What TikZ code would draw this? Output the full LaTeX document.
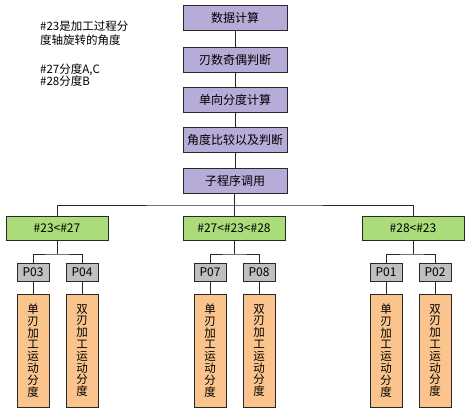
\documentclass[tikz,border=0pt]{standalone}
\usepackage{fontspec}
\setmainfont{Noto Sans CJK SC}
\definecolor{pbox}{RGB}{183,172,216}
\definecolor{gbox}{RGB}{170,220,122}
\definecolor{hbox}{RGB}{192,192,192}
\definecolor{obox}{RGB}{250,196,140}
\definecolor{edgec}{RGB}{40,40,40}
\tikzset{
  base/.style={draw=edgec, line width=0.9pt, inner sep=0pt, font=\fontsize{12}{14}\selectfont},
  pstep/.style={base, fill=pbox, minimum width=104pt, minimum height=25pt},
  gstep/.style={base, fill=gbox, minimum width=102pt, minimum height=24pt},
  hstep/.style={base, fill=hbox, minimum width=32pt, minimum height=18pt},
  ostep/.style={base, fill=obox, minimum width=32pt, minimum height=113pt, align=center, font=\fontsize{11.5}{11.8}\selectfont},
  conn/.style={draw=edgec, line width=0.9pt},
  note/.style={inner sep=0pt, anchor=west, align=left}
}
\begin{document}
\begin{tikzpicture}[x=1pt,y=-1pt]
\useasboundingbox (0,0) rectangle (470,414);
% notes
\node[note, font=\fontsize{11.5}{14}\selectfont] (n1) at (40,33) {\#23是加工过程分\\度轴旋转的角度};
\node[note, font=\fontsize{11.5}{12.5}\selectfont] (n2) at (40,75) {\#27分度A,C\\\#28分度B};
% purple chain
\node[pstep] (p1) at (235,17.5) {数据计算};
\node[pstep] (p2) at (235,59.5) {刃数奇偶判断};
\node[pstep] (p3) at (235,99.5) {单向分度计算};
\node[pstep] (p4) at (235,140) {角度比较以及判断};
\node[pstep] (p5) at (235,180.5) {子程序调用};
\draw[conn] (p1) -- (p2);
\draw[conn] (p2) -- (p3);
\draw[conn] (p3) -- (p4);
\draw[conn] (p4) -- (p5);
% green
\node[gstep] (g1) at (57,228) {\#23<\#27};
\node[gstep] (g2) at (234,228) {\#27<\#23<\#28};
\node[gstep] (g3) at (413,228) {\#28<\#23};
\coordinate (bus) at (234,205);
\draw[conn] (p5.south -| bus) -- (bus);
\draw[conn] (g1.north) |- (bus) -| (g3.north);
\draw[conn] (bus) -- (g2.north);
% gray
\node[hstep] (h1) at (33,272) {P03};
\node[hstep] (h2) at (82,272) {P04};
\node[hstep] (h3) at (210,272) {P07};
\node[hstep] (h4) at (259,272) {P08};
\node[hstep] (h5) at (386,272) {P01};
\node[hstep] (h6) at (435,272) {P02};
\coordinate (j1) at (57,254);
\coordinate (j2) at (234,254);
\coordinate (j3) at (413,254);
\draw[conn] (g1) -- (j1);
\draw[conn] (g2) -- (j2);
\draw[conn] (g3) -- (j3);
\draw[conn] (h1.north) |- (j1) -| (h2.north);
\draw[conn] (h3.north) |- (j2) -| (h4.north);
\draw[conn] (h5.north) |- (j3) -| (h6.north);
% orange
\node[ostep] (o1) at (33,350.5) {单\\刃\\加\\工\\运\\动\\分\\度};
\node[ostep] (o2) at (82,350.5) {双\\刃\\加\\工\\运\\动\\分\\度};
\node[ostep] (o3) at (210,350.5) {单\\刃\\加\\工\\运\\动\\分\\度};
\node[ostep] (o4) at (259,350.5) {双\\刃\\加\\工\\运\\动\\分\\度};
\node[ostep] (o5) at (386,350.5) {单\\刃\\加\\工\\运\\动\\分\\度};
\node[ostep] (o6) at (435,350.5) {双\\刃\\加\\工\\运\\动\\分\\度};
\draw[conn] (h1) -- (o1);
\draw[conn] (h2) -- (o2);
\draw[conn] (h3) -- (o3);
\draw[conn] (h4) -- (o4);
\draw[conn] (h5) -- (o5);
\draw[conn] (h6) -- (o6);
\end{tikzpicture}
\end{document}
